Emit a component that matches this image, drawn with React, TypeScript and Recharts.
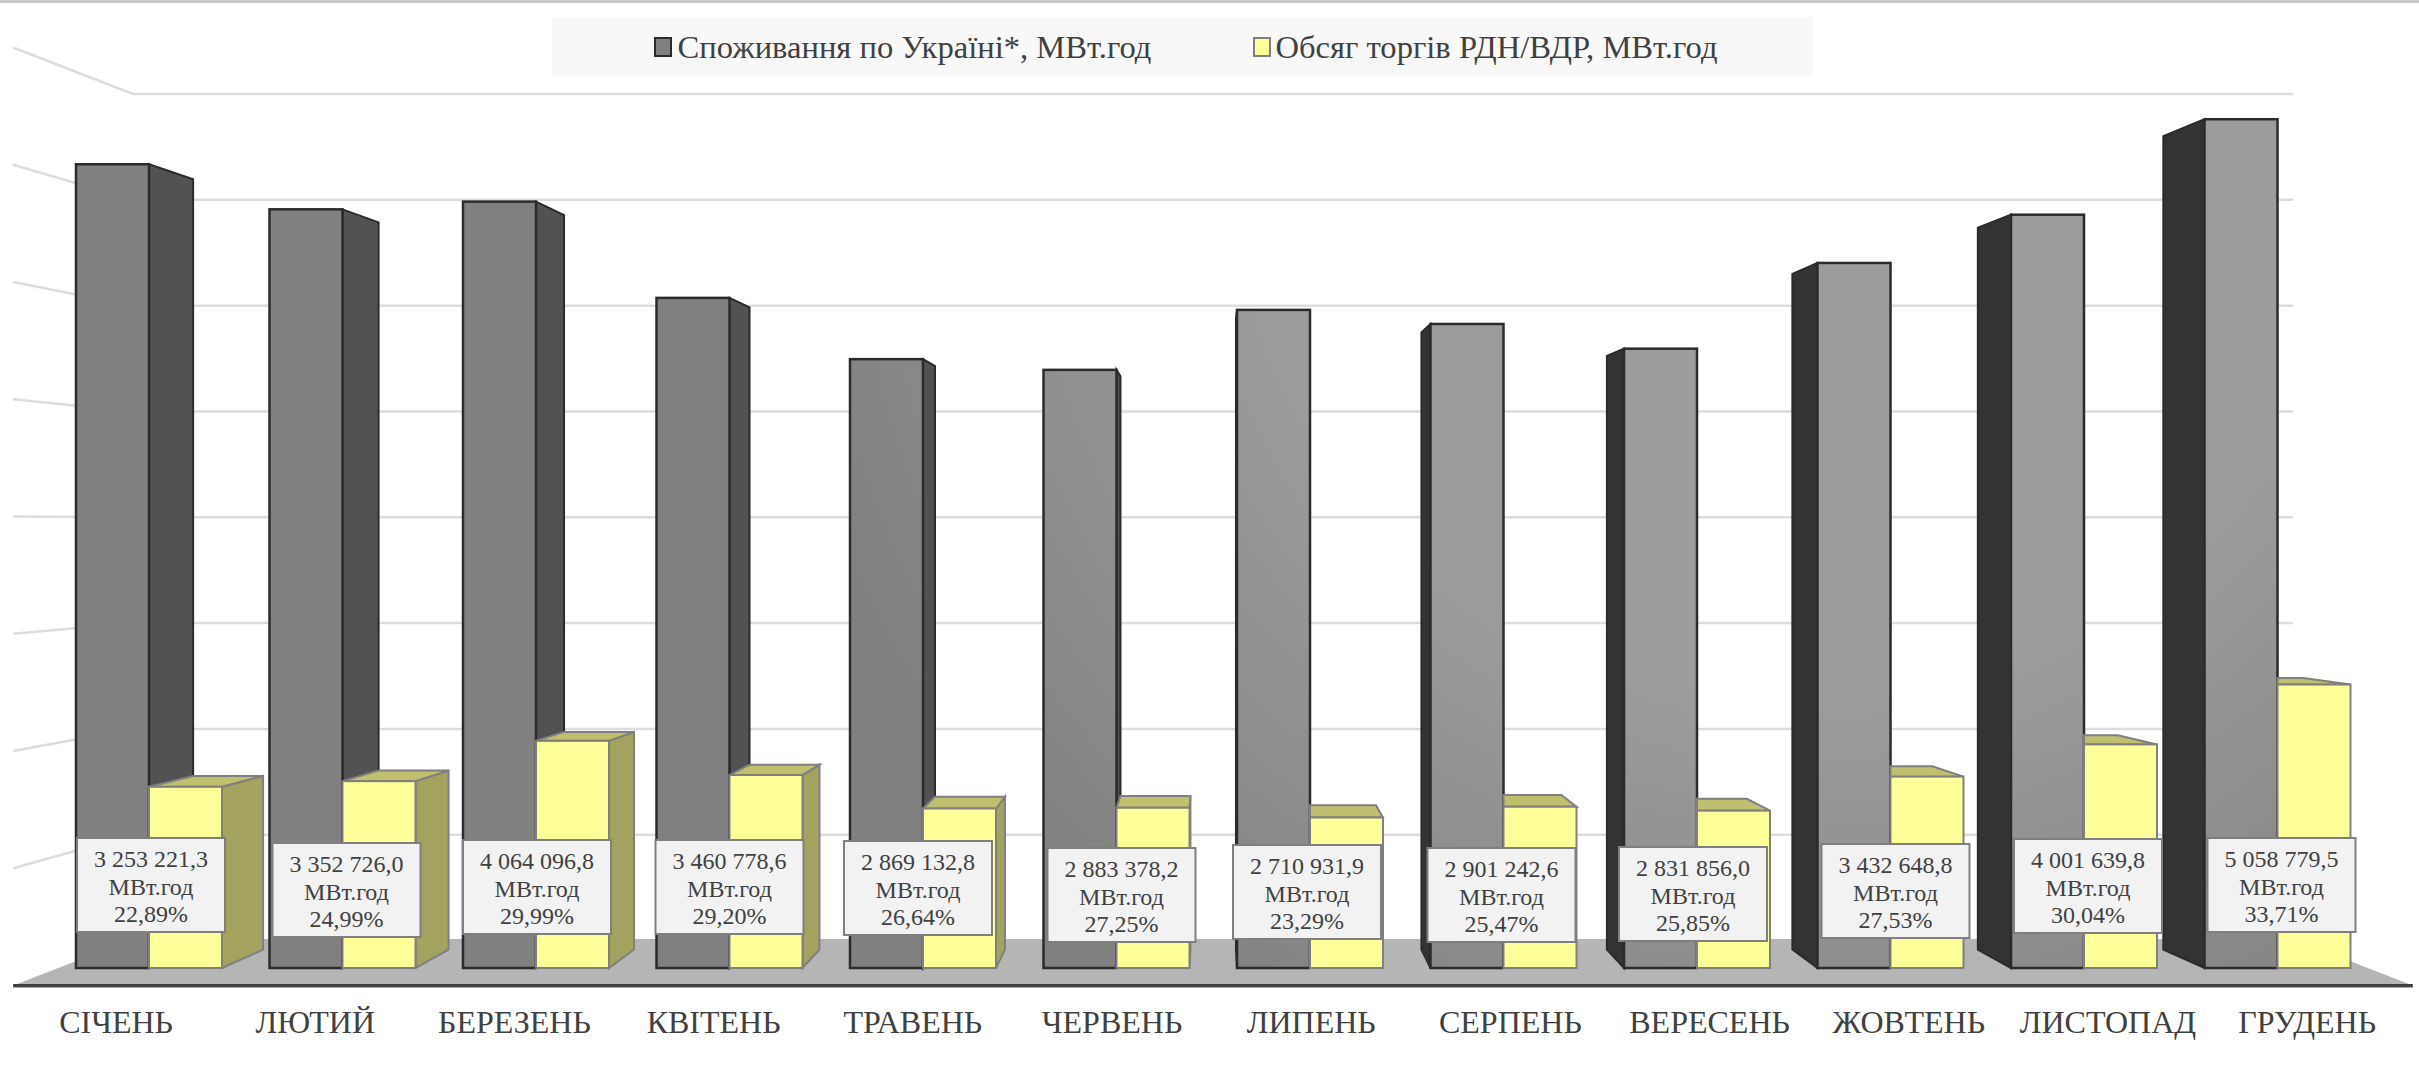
import { BarChart, Bar, XAxis, YAxis, CartesianGrid, Legend, LabelList } from "recharts";

const months = ["СІЧЕНЬ", "ЛЮТИЙ", "БЕРЕЗЕНЬ", "КВІТЕНЬ", "ТРАВЕНЬ", "ЧЕРВЕНЬ", "ЛИПЕНЬ", "СЕРПЕНЬ", "ВЕРЕСЕНЬ", "ЖОВТЕНЬ", "ЛИСТОПАД", "ГРУДЕНЬ"];
const consumption = [14212000, 13416000, 13552000, 11852000, 10770000, 10581000, 11640000, 11391000, 10955000, 12469000, 13321000, 15007000];
const trade = [3253221.3, 3352726.0, 4064096.8, 3460778.6, 2869132.8, 2883378.2, 2710931.9, 2901242.6, 2831856.0, 3432648.8, 4001639.8, 5058779.5];
const shares = ["22,89%", "24,99%", "29,99%", "29,20%", "26,64%", "27,25%", "23,29%", "25,47%", "25,85%", "27,53%", "30,04%", "33,71%"];
const yTicks = [0, 2000000, 4000000, 6000000, 8000000, 10000000, 12000000, 14000000, 16000000];

const data = months.map((month, i) => ({ month, consumption: consumption[i], trade: trade[i] }));

// data labels were placed by hand in the original, so they wander a bit
const labelShiftX = [2, 4, 1, 0, -5, 5, -3, -2, -4, 5, 4, 4];
const labelTop = [838, 843, 840, 840, 841, 848, 845, 848, 847, 844, 839, 838];

// fake 3D: everything recedes to one vanishing point
const VX = 1212;
const VY = 525;
const BAR_DEPTH = 0.0415;
const FONT = "'Liberation Serif', 'Times New Roman', serif";
const TEXT = "#404040";

const back = (px: number, py: number, k: number) => [px + (VX - px) * k, py + (VY - py) * k];
const pts = (list: number[][]) => list.map((p) => p.join(",")).join(" ");
// plot plane -> back wall, back wall -> open edge of the side wall and floor
const toWall = (px: number, py: number) => [1214 + (px - 1214) * 0.9302, 550 + (py - 550) * 0.9344];
const toEdge = (p: number[]) => [1214 + (p[0] - 1214) * 1.111, VY + (p[1] - VY) * 1.108];

function GreyBar(props: any) {
  const { x, width, height } = props;
  // front faces sit a touch lower than the flat scale says
  const y = props.y + 1;
  const right = x + width;
  const bottom = props.y + height;
  const faces = [];
  if (right < VX) {
    const a = back(right, y, BAR_DEPTH);
    const b = back(right, bottom, BAR_DEPTH);
    faces.push(<polygon key="side" points={pts([[right, y], a, b, [right, bottom]])} fill="#525252" stroke="#2b2b2b" strokeWidth={2} />);
  }
  if (x > VX) {
    const a = back(x, y, BAR_DEPTH);
    const b = back(x, bottom, BAR_DEPTH);
    faces.push(<polygon key="side" points={pts([[x, y], a, b, [x, bottom]])} fill="#333333" stroke="#2b2b2b" strokeWidth={2} />);
  }
  return (
    <g>
      {faces}
      <rect x={x} y={y} width={width} height={bottom - y} fill="url(#greyFront)" stroke="#2b2b2b" strokeWidth={2.5} />
    </g>
  );
}

function YellowBar(props: any) {
  const { x, width, height } = props;
  const y = props.y + 3;
  const right = x + width;
  const bottom = props.y + height;
  const backLeft = back(x, y, BAR_DEPTH);
  const backRight = back(right, y, BAR_DEPTH);
  // the left part of the lid goes behind the grey bar
  const lidLeft = [Math.max(backLeft[0], x), backLeft[1]];
  return (
    <g>
      {right < VX && (
        <polygon points={pts([[right, y], backRight, back(right, bottom, BAR_DEPTH), [right, bottom]])} fill="#a3a35f" stroke="#7f7f7f" strokeWidth={2} />
      )}
      <polygon points={pts([[x, y], [right, y], backRight, lidLeft])} fill="#bfbf6e" stroke="#7f7f7f" strokeWidth={2} />
      <rect x={x} y={y} width={width} height={bottom - y} fill="#ffff99" stroke="#7f7f7f" strokeWidth={2} />
    </g>
  );
}

function WallLine(props: any) {
  const { x1, x2, y1 } = props;
  const left = toWall(x1, y1);
  const right = toWall(x2, y1);
  if (y1 > 900) {
    const a = toEdge(left);
    const b = toEdge(right);
    const backY = left[1] - 1.5;
    return (
      <g key="floor">
        <polygon points={pts([a, [left[0], backY], [right[0], backY], b])} fill="#b5b5b5" />
        <line x1={a[0]} y1={a[1]} x2={b[0]} y2={b[1]} stroke="#404040" strokeWidth={3} />
        <line x1={a[0]} y1={a[1] + 2} x2={b[0]} y2={b[1] + 2} stroke="#a6a6a6" strokeWidth={1} />
      </g>
    );
  }
  const a = toEdge(left);
  return (
    <g key={y1}>
      <line x1={a[0]} y1={a[1]} x2={left[0]} y2={left[1]} stroke="#dcdcdc" strokeWidth={2.5} />
      <line x1={left[0]} y1={left[1]} x2={right[0]} y2={right[1]} stroke="#dcdcdc" strokeWidth={2.5} />
    </g>
  );
}

function MonthTick(props: any) {
  const { x, y, payload } = props;
  return (
    <text x={1211.6 + (x - 1213) * 1.0294} y={y + 57} textAnchor="middle" fontFamily={FONT} fontSize={32} fill={TEXT}>
      {payload.value}
    </text>
  );
}

function TradeLabel(props: any) {
  const { x, index, value } = props;
  const cx = x + labelShiftX[index];
  const top = labelTop[index];
  const whole = Number(value).toFixed(1).replace(".", ",").replace(/\B(?=(\d{3})+(?!\d))(?=.*,)/g, " ");
  return (
    <g fontFamily={FONT} fontSize={24} fill={TEXT} textAnchor="middle">
      <rect x={cx - 74} y={top} width={148} height={94} fill="#f2f2f2" stroke="#7f7f7f" strokeWidth={2} />
      <text x={cx} y={top + 29}>{whole}</text>
      <text x={cx} y={top + 57}>МВт.год</text>
      <text x={cx} y={top + 84}>{shares[index]}</text>
    </g>
  );
}

function LegendBox(props: any) {
  const { payload } = props;
  const markerX = [102, 701];
  const textX = [125.5, 723.5];
  const edge = ["#2b2b2b", "#7f7f7f"];
  return (
    <div style={{ position: "relative", width: 1261, height: 59, background: "#f8f8f8", fontFamily: FONT, fontSize: 32.6, color: TEXT }}>
      {(payload || []).map((entry: any, i: number) => (
        <div key={entry.value}>
          <div style={{ position: "absolute", left: markerX[i], top: 20, width: 14, height: 16, background: entry.color, border: `2px solid ${edge[i]}` }} />
          <div style={{ position: "absolute", left: textX[i], top: 12, lineHeight: "36px", whiteSpace: "nowrap" }}>{entry.value}</div>
        </div>
      ))}
    </div>
  );
}

export default function App() {
  return (
    <div style={{ position: "absolute", left: 0, top: 0, width: 2419, height: 1075, background: "#fff" }}>
      <div style={{ position: "absolute", left: 0, top: 0, width: 2419, height: 3, background: "#cbcbcb" }} />
      <BarChart width={2419} height={1075} data={data} barSize={73} barGap={0} margin={{ top: 62, right: 45, bottom: 0, left: 52 }}>
        <defs>
          <radialGradient id="greyFront" gradientUnits="userSpaceOnUse" cx={1800} cy={150} r={1050}>
            <stop offset="0.52" stopColor="#9c9c9c" />
            <stop offset="1" stopColor="#808080" />
          </radialGradient>
        </defs>
        <CartesianGrid vertical={false} horizontal={WallLine} />
        <XAxis dataKey="month" height={107} axisLine={false} tickLine={false} interval={0} tick={MonthTick} />
        <YAxis hide domain={[0, 16000000]} ticks={yTicks} />
        <Legend
          verticalAlign="middle"
          align="center"
          layout="horizontal"
          itemSorter={null}
          content={LegendBox}
          wrapperStyle={{ left: 552, top: 17, width: 1261, height: 59 }}
        />
        <Bar dataKey="consumption" name="Споживання по Україні*, МВт.год" fill="#808080" shape={GreyBar} isAnimationActive={false} />
        <Bar dataKey="trade" name="Обсяг торгів РДН/ВДР, МВт.год" fill="#ffff99" shape={YellowBar} isAnimationActive={false}>
          <LabelList dataKey="trade" content={TradeLabel} />
        </Bar>
      </BarChart>
    </div>
  );
}
